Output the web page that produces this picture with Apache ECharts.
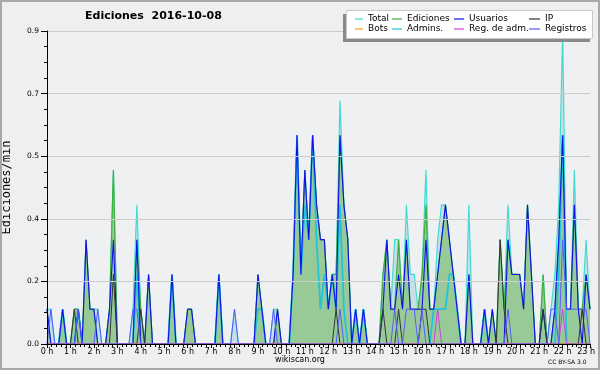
<!DOCTYPE html>
<html>
<head>
<meta charset="utf-8">
<script src="https://cdn.jsdelivr.net/npm/echarts@6/dist/echarts.min.js"></script>
<style>html,body{margin:0;padding:0;background:#efefef}#c{width:600px;height:370px}</style>
</head>
<body>
<div id="c"></div>
<script>
// 10-minute buckets, index 0 = 00:00, last = 23:10 ; values in edits per minute
const hourLabels = ['0 h','1 h','2 h','3 h','4 h','5 h','6 h','7 h','8 h','9 h','10 h','11 h','12 h','13 h','14 h','15 h','16 h','17 h','18 h','19 h','20 h','21 h','22 h','23 h'];
const yTicks = [0, 0.18, 0.36, 0.54, 0.72, 0.9];

const total = [
 .1,.1,0,0,.1,0,0,.1,.1,0,.3,.1,
 .1,.1,0,0,.1,.5,0,0,0,0,.1,.4,
 .1,0,.2,0,0,0,0,0,.2,0,0,0,
 .1,.1,0,0,0,0,0,0,.2,0,0,0,
 .1,0,0,0,0,0,.2,.1,0,0,.1,.1,
 0,0,0,.2,.6,.2,.5,.3,.6,.4,.3,.3,
 .1,.2,.2,.7,.4,.3,0,.1,0,.1,0,0,
 0,0,.2,.3,.1,.3,.3,.1,.4,.2,.2,.1,
 .2,.5,.1,.1,.3,.4,.4,.3,.2,.1,0,0,
 .4,0,0,0,.1,0,.1,0,.3,.1,.4,.2,
 .2,.2,.1,.4,.2,0,0,.2,0,.1,.2,.4,
 .9,.1,.1,.5,.1,.1,.3,.1];
const ediciones = [
 .1,0,0,0,.1,0,0,.1,.1,0,.3,.1,
 .1,0,0,0,.1,.5,0,0,0,0,0,.3,
 .1,0,.2,0,0,0,0,0,.2,0,0,0,
 .1,.1,0,0,0,0,0,0,.2,0,0,0,
 0,0,0,0,0,0,.2,.1,0,0,0,.1,
 0,0,0,.2,.6,.2,.5,.3,.6,.4,.3,.3,
 .1,.2,.2,.6,.4,.3,0,.1,0,.1,0,0,
 0,0,.2,.3,.1,.1,.3,.1,.3,.1,.1,.1,
 .2,.4,.1,.1,.2,.3,.4,.3,.2,.1,0,0,
 .2,0,0,0,.1,0,.1,0,.3,.1,.3,.2,
 .2,.2,.1,.4,.2,0,0,.2,0,0,.1,.3,
 .6,.1,.1,.4,.1,.1,.2,.1];
const usuarios = [
 .1,0,0,0,.1,0,0,0,.1,0,.3,.1,
 .1,0,0,0,.1,.3,0,0,0,0,0,.3,
 0,0,.2,0,0,0,0,0,.2,0,0,0,
 .1,.1,0,0,0,0,0,0,.2,0,0,0,
 0,0,0,0,0,0,.2,.1,0,0,0,.1,
 0,0,0,.2,.6,.2,.5,.3,.6,.4,.3,.3,
 .1,.2,.1,.6,.4,.3,0,.1,0,.1,0,0,
 0,0,.1,.3,.1,.1,.2,.1,.3,.1,.1,.1,
 .1,.3,.1,.1,.2,.3,.4,.3,.2,.1,0,0,
 .2,0,0,0,.1,0,.1,0,0,0,.3,.2,
 .2,.2,.1,.4,.2,0,0,.1,0,0,.1,.3,
 .6,.1,.1,.4,.1,0,.2,.1];
const ip = [
 0,0,0,0,0,0,0,.1,0,0,0,0,
 0,0,0,0,0,.2,0,0,0,0,0,0,
 .1,0,0,0,0,0,0,0,0,0,0,0,
 0,0,0,0,0,0,0,0,0,0,0,0,
 0,0,0,0,0,0,0,0,0,0,0,0,
 0,0,0,0,0,0,0,0,0,0,0,0,
 0,0,.1,0,0,0,0,0,0,0,0,0,
 0,0,.1,0,0,0,.1,0,0,0,0,0,
 .1,.1,0,0,0,0,0,0,0,0,0,0,
 0,0,0,0,0,0,0,0,.3,.1,0,0,
 0,0,0,0,0,0,0,.1,0,0,0,0,
 0,0,0,0,0,.1,0,0];
const bots = [
 0,0,0,0,0,0,0,0,0,0,0,0,
 0,0,0,0,0,0,0,0,0,0,0,0,
 0,0,0,0,0,0,0,0,0,0,0,0,
 0,0,0,0,0,0,0,0,0,0,0,0,
 0,0,0,0,0,0,0,0,0,0,0,0,
 0,0,0,0,0,0,0,0,0,0,0,0,
 0,0,0,0,0,0,0,0,0,0,0,0,
 0,0,0,0,0,0,0,0,0,0,0,0,
 0,0,0,0,0,0,0,0,0,0,0,0,
 0,0,0,0,0,0,0,0,0,0,0,0,
 0,0,0,0,0,0,0,0,0,0,0,0,
 0,0,0,0,0,0,0,0];
const admins = [
 0,0,0,0,.1,0,0,0,.1,0,0,0,
 0,0,0,0,0,0,0,0,0,0,0,.2,
 0,0,0,0,0,0,0,0,.2,0,0,0,
 0,0,0,0,0,0,0,0,.2,0,0,0,
 0,0,0,0,0,0,.1,.1,0,0,0,0,
 0,0,0,.2,.6,.2,.4,.3,.6,.3,.1,.2,
 .1,.2,.1,.4,.1,0,0,.1,0,.1,0,0,
 0,0,0,0,0,0,0,0,0,0,0,0,
 0,0,0,.1,.1,.1,.1,.2,.2,.1,0,0,
 0,0,0,0,.1,0,0,0,0,0,0,0,
 0,0,0,0,0,0,0,0,0,0,0,.2,
 .6,0,0,0,0,0,0,0];
const regAdm = [
 0,0,0,0,0,0,0,0,0,0,0,0,
 0,0,0,0,0,0,0,0,0,0,0,0,
 0,0,0,0,0,0,0,0,0,0,0,0,
 0,0,0,0,0,0,0,0,0,0,0,0,
 0,0,0,0,0,0,0,0,0,0,0,0,
 0,0,0,0,0,0,0,0,0,0,0,0,
 0,0,0,0,0,0,0,0,0,0,0,0,
 0,0,0,0,0,0,0,0,0,0,0,0,
 0,0,0,0,.1,0,0,0,0,0,0,0,
 0,0,0,0,0,0,0,0,0,0,0,0,
 0,0,0,0,0,0,0,0,0,0,0,0,
 .1,0,0,0,0,0,0,0];
const registros = [
 0,.1,0,0,0,0,0,0,.1,0,0,0,
 0,.1,0,0,0,0,0,0,0,0,.1,.1,
 0,0,0,0,0,0,0,0,0,0,0,0,
 0,0,0,0,0,0,0,0,0,0,0,0,
 .1,0,0,0,0,0,0,0,0,0,.1,0,
 0,0,0,0,0,0,0,0,0,0,0,0,
 0,0,0,.1,0,0,0,0,0,0,0,0,
 0,0,0,0,0,.1,0,0,.1,.1,.1,0,
 .1,0,0,0,0,0,0,0,0,0,0,0,
 0,0,0,0,0,0,0,0,0,0,.1,0,
 0,0,0,0,0,0,0,0,0,.1,.1,0,
 .3,.1,.1,.1,.1,.1,.1,0];

const pts = arr => arr.map((v, i) => [i, v]);
const FONT = 'DejaVu Sans';

function line(name, data, color, width, z, extra) {
  return Object.assign({
    name, type: 'line', data: pts(data), z,
    symbol: 'none', showSymbol: false, animation: false,
    lineStyle: { color, width }, itemStyle: { color },
    emphasis: { disabled: true }
  }, extra || {});
}

const legendBase = (left, names, iw) => ({
  orient: 'vertical', left, top: 14, itemWidth: iw, itemHeight: 1.2, itemGap: 0,
  icon: 'rect', padding: 0, z: 60, selectedMode: false, data: names,
  textStyle: { fontFamily: FONT, fontSize: 9, lineHeight: 10, color: '#000' }
});

const chart = echarts.init(document.getElementById('c'), null, { renderer: 'canvas' });
chart.setOption({
  backgroundColor: '#efefef',
  animation: false,
  title: {
    text: 'Ediciones  2016-10-08', left: 85, top: 11, padding: 0,
    textStyle: { fontFamily: FONT, fontSize: 11, fontWeight: 'bold', color: '#000' }
  },
  legend: [
    legendBase(355, ['Total', 'Bots'], 8),
    legendBase(392, ['Ediciones', 'Admins.'], 10),
    legendBase(454, ['Usuarios', 'Reg. de adm.'], 10),
    legendBase(529, ['IP', 'Registros'], 11)
  ],
  grid: {
    left: 47, right: 10, top: 31, bottom: 26, containLabel: false, outerBoundsMode: 'none',
    show: true, backgroundColor: '#eef0f2', borderWidth: 0
  },
  xAxis: {
    type: 'value', min: 0, max: total.length - 1, interval: 6, z: 10,
    axisLine: { show: true, onZero: false, lineStyle: { color: '#000', width: 1 } },
    axisTick: { show: true, length: 4, lineStyle: { color: '#000' } },
    minorTick: { show: true, splitNumber: 5, length: 3, lineStyle: { color: '#000' } },
    splitLine: { show: false },
    axisLabel: {
      fontFamily: FONT, fontSize: 8, color: '#000', margin: 4,
      formatter: v => hourLabels[Math.round(v / 6)] || ''
    }
  },
  yAxis: {
    type: 'value', min: yTicks[0], max: yTicks[yTicks.length - 1], interval: yTicks[1], z: 10,
    name: 'Ediciones/min', nameLocation: 'middle', nameGap: 34, nameRotate: 90,
    nameTextStyle: { fontFamily: 'DejaVu Sans Mono', fontSize: 12, color: '#000' },
    axisLine: { show: true, lineStyle: { color: '#000', width: 1 } },
    axisTick: { show: true, length: 6, lineStyle: { color: '#000' } },
    minorTick: { show: true, splitNumber: 4, length: 3, lineStyle: { color: '#000' } },
    splitLine: { show: true, lineStyle: { color: '#cccccc', width: 1 } },
    axisLabel: {
      fontFamily: FONT, fontSize: 7.5, color: '#000', margin: 8,
      formatter: v => v.toFixed(1)
    }
  },
  series: [
    line('Total', total, '#40dcd0', 1.2, 1, { areaStyle: { color: '#c8dfe9', opacity: 1 } }),
    line('Ediciones', ediciones, '#3cb03c', 1.2, 2, { areaStyle: { color: '#98ca98', opacity: 1 } }),
    line('Admins.', admins, '#22c4dc', 1.8, 3),
    line('Usuarios', usuarios, '#1010ee', 1.1, 3),
    line('IP', ip, '#333333', 1, 3),
    line('Bots', bots, '#ffa020', 1, 3),
    line('Reg. de adm.', regAdm, '#d040e0', 1, 3),
    line('Registros', registros, '#5a5aff', 1, 3)
  ],
  graphic: [
    { type: 'rect', z: 50, shape: { x: 1, y: 1, width: 598, height: 368 },
      style: { fill: 'none', stroke: '#a8a8a8', lineWidth: 2 } },
    { type: 'rect', z: 50, shape: { x: 343, y: 14, width: 247, height: 28 },
      style: { fill: '#8a8a8a' } },
    { type: 'rect', z: 51, shape: { x: 346.5, y: 10.5, width: 246, height: 28 },
      style: { fill: '#ffffff', stroke: '#c8c8c8', lineWidth: 1 } },
    { type: 'text', z: 50, left: 'center', top: 356,
      style: { text: 'wikiscan.org', fontFamily: FONT, fontSize: 8, fill: '#000' } },
    { type: 'text', z: 50, left: 548, top: 359,
      style: { text: 'CC BY-SA 3.0', fontFamily: FONT, fontSize: 6, fill: '#000' } }
  ]
});
</script>
</body>
</html>
